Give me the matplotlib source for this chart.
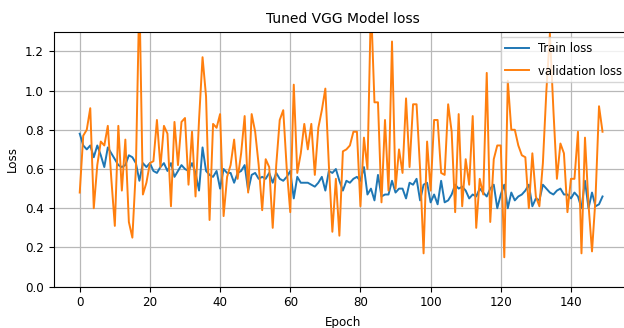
import numpy as np
import matplotlib
matplotlib.use("Agg")
import matplotlib.pyplot as plt

# values (one per epoch, 0..149)
train_loss = [
    0.78, 0.72, 0.70, 0.72, 0.66, 0.72, 0.67, 0.61, 0.71, 0.68,
    0.65, 0.62, 0.61, 0.62, 0.67, 0.66, 0.63, 0.54, 0.63, 0.61,
    0.63, 0.59, 0.58, 0.61, 0.63, 0.59, 0.63, 0.56, 0.59, 0.62,
    0.60, 0.59, 0.63, 0.58, 0.49, 0.71, 0.59, 0.57, 0.56, 0.59,
    0.50, 0.60, 0.58, 0.58, 0.53, 0.58, 0.59, 0.62, 0.49, 0.57,
    0.58, 0.55, 0.56, 0.55, 0.58, 0.53, 0.58, 0.55, 0.54, 0.56,
    0.59, 0.45, 0.56, 0.53, 0.53, 0.53, 0.52, 0.51, 0.53, 0.56,
    0.49, 0.59, 0.58, 0.60, 0.54, 0.49, 0.54, 0.53, 0.55, 0.56,
    0.54, 0.61, 0.47, 0.50, 0.44, 0.57, 0.46, 0.47, 0.47, 0.54,
    0.48, 0.50, 0.50, 0.45, 0.53, 0.52, 0.55, 0.44, 0.52, 0.53,
    0.43, 0.47, 0.42, 0.54, 0.43, 0.44, 0.47, 0.52, 0.50, 0.51,
    0.49, 0.45, 0.47, 0.46, 0.50, 0.48, 0.46, 0.50, 0.52, 0.40,
    0.47, 0.52, 0.40, 0.48, 0.44, 0.46, 0.47, 0.49, 0.52, 0.41,
    0.45, 0.44, 0.52, 0.50, 0.48, 0.47, 0.49, 0.50, 0.47, 0.47,
    0.45, 0.48, 0.46, 0.40, 0.54, 0.40, 0.48, 0.41, 0.42, 0.46,
]

val_loss = [
    0.48, 0.77, 0.80, 0.91, 0.40, 0.62, 0.74, 0.72, 0.82, 0.55,
    0.31, 0.82, 0.49, 0.75, 0.33, 0.25, 0.60, 1.50, 0.47, 0.53,
    0.63, 0.64, 0.85, 0.61, 0.82, 0.78, 0.41, 0.84, 0.62, 0.84,
    0.86, 0.52, 0.79, 0.46, 0.85, 1.17, 0.97, 0.34, 0.83, 0.81,
    0.88, 0.36, 0.56, 0.62, 0.75, 0.55, 0.68, 0.87, 0.48, 0.88,
    0.79, 0.62, 0.39, 0.65, 0.61, 0.30, 0.62, 0.85, 0.90, 0.60,
    0.38, 1.03, 0.58, 0.68, 0.83, 0.70, 0.83, 0.57, 0.81, 0.90,
    1.01, 0.62, 0.28, 0.55, 0.26, 0.69, 0.70, 0.72, 0.79, 0.79,
    0.41, 0.76, 0.60, 1.45, 0.94, 0.94, 0.43, 0.85, 0.49, 1.25,
    0.50, 0.70, 0.58, 0.96, 0.61, 0.93, 0.93, 0.60, 0.17, 0.74,
    0.49, 0.85, 0.85, 0.58, 0.57, 0.93, 0.79, 0.38, 0.88, 0.41,
    0.65, 0.52, 0.87, 0.30, 0.55, 0.47, 1.09, 0.33, 0.65, 0.72,
    0.72, 0.15, 1.05, 0.80, 0.80, 0.72, 0.67, 0.66, 0.40, 0.68,
    0.46, 0.41, 0.63, 1.00, 1.29, 0.90, 0.55, 0.73, 0.68, 0.38,
    0.55, 0.55, 0.79, 0.17, 0.76, 0.42, 0.18, 0.45, 0.92, 0.79,
]

labels = ['Train loss', 'validation loss']
epochs = np.arange(len(train_loss))

fig = plt.figure(figsize=(6.24, 3.28), dpi=100)
# the reference is cropped on the right, so the axes run past the edge
ax = fig.add_axes([53.6/624, 1-286.7/328, (632-53.6)/624, (286.7-31.7)/328])

ax.plot(epochs, train_loss, color='tab:blue', linewidth=1.4, label=labels[0])
ax.plot(epochs, val_loss, color='tab:orange', linewidth=1.4, label=labels[1])

ax.set_xlim(-7.45, 157.4)
ax.set_ylim(0, 1.3)
ax.set_xticks(np.arange(0, 141, 20))
ax.set_yticks(np.arange(0, 1.21, 0.2))
ax.tick_params(labelsize=8.6)
ax.grid(True, color='#b8b8b8', linewidth=0.9)

ax.set_title('Tuned VGG Model loss', fontsize=10)
ax.set_xlabel('Epoch', fontsize=8.6, labelpad=5)
ax.set_ylabel('Loss', fontsize=8.6)
ax.legend(loc='upper right', fontsize=8.4, labelspacing=0.85,
          borderaxespad=0.45)

fig.savefig('out.png', dpi=100)
